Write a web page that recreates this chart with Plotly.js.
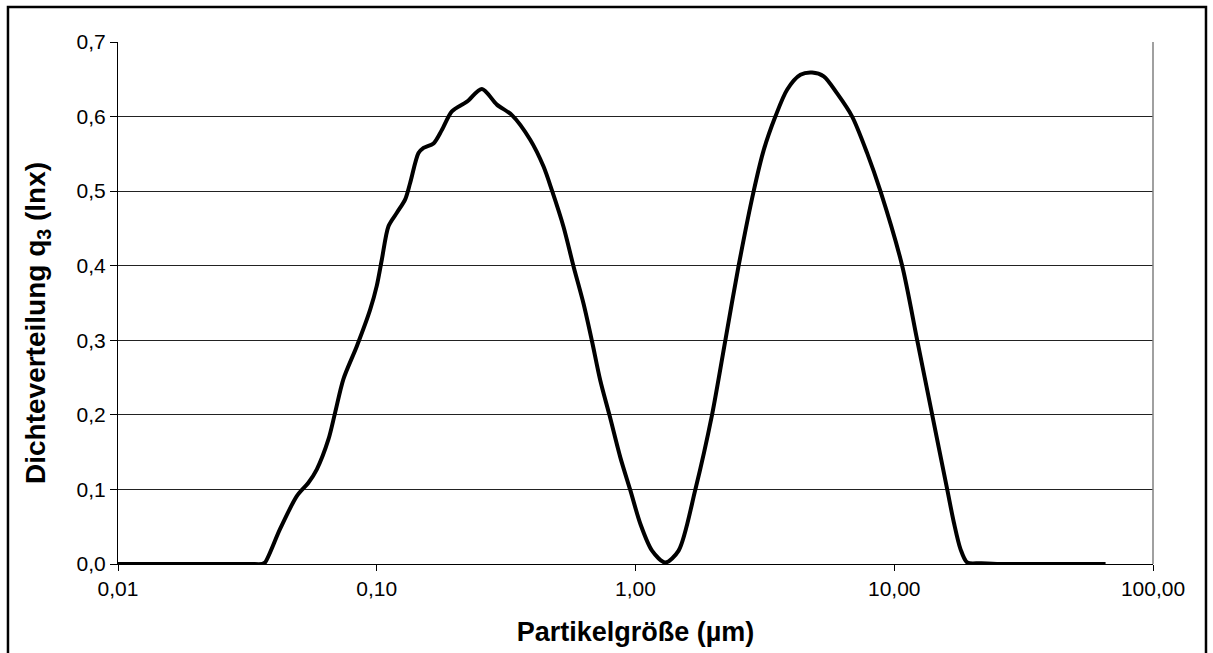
<!DOCTYPE html>
<html>
<head>
<meta charset="utf-8">
<script src="https://cdn.plot.ly/plotly-3.0.1.min.js"></script>
<style>
  html, body { margin: 0; padding: 0; background: #fff; }
  #chart { width: 1213px; height: 653px; }
</style>
</head>
<body>
<div id="chart"></div>
<script>
// Particle size (µm)
const particleSize = [
  0.01, 0.01329, 0.02076, 0.03239, 0.03603, 0.03701, 0.04231, 0.04909, 0.05443, 0.05867,
  0.06504, 0.06904, 0.07433, 0.08375, 0.0943, 0.1, 0.1046, 0.111, 0.1196, 0.1288,
  0.1346, 0.145, 0.1516, 0.1657, 0.1785, 0.1952, 0.2231, 0.2549, 0.2913, 0.333,
  0.3918, 0.4412, 0.4754, 0.5272, 0.5762, 0.6299, 0.6788, 0.731, 0.7941, 0.8736,
  0.9548, 1.0438, 1.1582, 1.3036, 1.4678, 1.7033, 1.976, 2.2244,
  2.5037, 2.8623, 3.1294, 3.4714, 3.8531, 4.3379, 4.8139, 5.3395,
  6.0148, 6.8755, 7.8578, 8.8435, 10.73, 12.27, 14.02,
  16.02, 16.99, 18.03, 19.14, 21.54, 25.75, 40.18, 65.57
];
// Density distribution q3 (ln x)
const density = [
  0, 0, 0, 0, 0, 0.002, 0.047, 0.091, 0.109, 0.127,
  0.167, 0.203, 0.248, 0.292, 0.341, 0.373, 0.408, 0.453, 0.471, 0.489,
  0.511, 0.551, 0.558, 0.564, 0.582, 0.607, 0.620, 0.637, 0.616, 0.602,
  0.569, 0.533, 0.501, 0.452, 0.399, 0.349, 0.299, 0.246, 0.199, 0.143,
  0.099, 0.054, 0.018, 0.002, 0.018, 0.100, 0.200, 0.300,
  0.400, 0.500, 0.555, 0.600, 0.636, 0.656, 0.659, 0.654,
  0.631, 0.600, 0.551, 0.500, 0.400, 0.300, 0.200,
  0.100, 0.056, 0.020, 0.002, 0.001, 0, 0, 0
];
const xTickVals = [0.01, 0.1, 1, 10, 100];
const yTickVals = [0, 0.1, 0.2, 0.3, 0.4, 0.5, 0.6, 0.7];
const xTitle = 'Partikelgröße (µm)';
const yTitle = 'Dichteverteilung q<sub>3</sub> (lnx)';

const FONT = 'Liberation Sans, Arial, sans-serif';

const trace = {
  x: particleSize,
  y: density,
  type: 'scatter',
  mode: 'lines',
  line: { color: '#000', width: 4, shape: 'spline', smoothing: 0.8 },
  hoverinfo: 'x+y'
};

const layout = {
  width: 1213,
  height: 653,
  margin: { l: 118, r: 60, t: 42, b: 89 },
  paper_bgcolor: '#fff',
  plot_bgcolor: '#fff',
  separators: ',.',
  showlegend: false,
  font: { family: FONT, color: '#000', size: 21 },
  xaxis: {
    type: 'log',
    range: [-2, 2],
    tickvals: xTickVals,
    tickformat: '.2f',
    ticks: 'outside',
    ticklen: 6,
    tickcolor: '#000',
    showline: true,
    linecolor: '#000',
    linewidth: 1,
    showgrid: false,
    zeroline: false,
    tickfont: { family: FONT, size: 21, color: '#000' },
    title: { text: xTitle, font: { family: FONT, size: 27, color: '#000', weight: 'bold' }, standoff: 22 }
  },
  yaxis: {
    range: [0, 0.7],
    tickvals: yTickVals,
    tickformat: '.1f',
    ticks: 'outside',
    ticklen: 7,
    tickcolor: '#000',
    showline: true,
    linecolor: '#000',
    linewidth: 1,
    showgrid: true,
    gridcolor: '#222',
    gridwidth: 1,
    zeroline: false,
    tickfont: { family: FONT, size: 21, color: '#000' }
  },
  annotations: [
    { text: yTitle, xref: 'paper', yref: 'paper', x: 0, xshift: -80, y: 0.4617,
      xanchor: 'center', yanchor: 'middle', textangle: -90, showarrow: false,
      font: { family: FONT, size: 28, color: '#000', weight: 'bold' } }
  ],
  shapes: [
    { type: 'line', xref: 'paper', yref: 'paper', x0: 1, x1: 1, y0: 0, y1: 1,
      line: { color: '#808080', width: 1.5 } },
    { type: 'rect', xref: 'paper', yref: 'paper', x0: -0.1063, x1: 1.0512, y0: -0.25, y1: 1.067,
      line: { color: '#000', width: 2.5 }, fillcolor: 'rgba(0,0,0,0)', layer: 'above' }
  ]
};

Plotly.newPlot('chart', [trace], layout, { displayModeBar: false, staticPlot: true });
</script>
</body>
</html>
